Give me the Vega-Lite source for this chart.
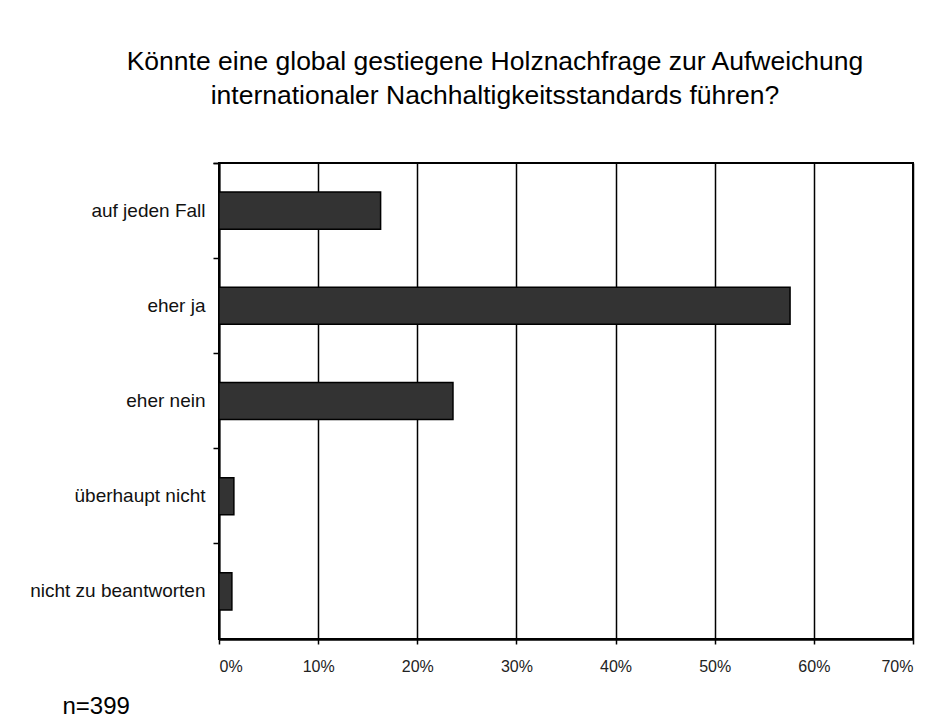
{
  "$schema": "https://vega.github.io/schema/vega-lite/v6.json",
  "width": 694,
  "height": 476,
  "autosize": {"type": "none"},
  "padding": {"left": 219, "top": 163, "right": 34, "bottom": 80},
  "background": "white",
  "title": {
    "text": ["Könnte eine global gestiegene Holznachfrage zur Aufweichung", "internationaler Nachhaltigkeitsstandards führen?"],
    "fontSize": 26.5,
    "fontWeight": "normal",
    "font": "Liberation Sans",
    "color": "black",
    "anchor": "middle",
    "frame": "group",
    "dx": -71,
    "offset": 45,
    "lineHeight": 34
  },
  "data": {
    "values": [
      {"answer": "auf jeden Fall", "share": 0.163},
      {"answer": "eher ja", "share": 0.576},
      {"answer": "eher nein", "share": 0.236},
      {"answer": "überhaupt nicht", "share": 0.015},
      {"answer": "nicht zu beantworten", "share": 0.013}
    ]
  },
  "mark": {"type": "bar", "color": "#333333", "stroke": "black", "strokeWidth": 1.5, "height": {"band": 0.39}},
  "encoding": {
    "y": {
      "field": "answer",
      "type": "nominal",
      "sort": null,
      "scale": {"paddingInner": 0, "paddingOuter": 0},
      "axis": {
        "title": null,
        "bandPosition": 0,
        "tickExtra": true,
        "tickSize": 6,
        "tickWidth": 1.5,
        "tickColor": "black",
        "domainColor": "black",
        "domainWidth": 2,
        "labelFont": "Liberation Sans",
        "labelFontSize": 19,
        "labelColor": "#111",
        "labelPadding": 8,
        "grid": false
      }
    },
    "x": {
      "field": "share",
      "type": "quantitative",
      "scale": {"domain": [0, 0.7], "nice": false},
      "axis": {
        "values": [0, 0.1, 0.2, 0.3, 0.4, 0.5, 0.6, 0.7],
        "format": ".0%",
        "grid": true,
        "gridColor": "black",
        "gridWidth": 1.5,
        "gridOpacity": 1,
        "tickSize": 5,
        "tickWidth": 1.5,
        "tickColor": "black",
        "domainColor": "black",
        "domainWidth": 2.5,
        "labelFont": "Liberation Sans",
        "labelFontSize": 16,
        "labelColor": "#222",
        "labelPadding": 14,
        "title": "n=399",
        "titleFont": "Liberation Sans",
        "titleFontSize": 24,
        "titleFontWeight": "normal",
        "titleColor": "black",
        "titleX": -157,
        "titleY": 74,
        "titleAlign": "left",
        "titleBaseline": "alphabetic",
        "titleAnchor": "start"
      }
    }
  },
  "config": {
    "view": {"stroke": "black", "strokeWidth": 2}
  }
}
